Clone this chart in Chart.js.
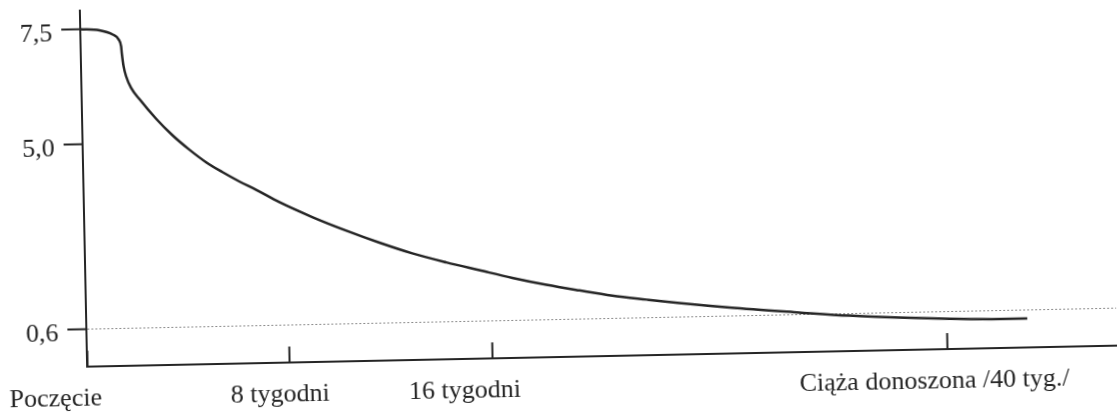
<!DOCTYPE html>
<html>
<head>
<meta charset="utf-8">
<script src="https://cdn.jsdelivr.net/npm/chart.js@4.4.1/dist/chart.umd.min.js"></script>
<style>
    html, body { margin: 0; padding: 0; background: #fff; overflow: hidden; }
    /* the scan is tilted a little, so the whole drawing is too */
    #wrap { width: 1117px; height: 417px; transform: rotate(-1.17deg); transform-origin: 50% 50%; }
</style>
</head>
<body>
<div id="wrap"><canvas id="hcgChart"></canvas></div>
<script>
// Curve: weeks since conception -> value
const weeks = [0, 0.76, 1.28, 1.51, 1.6, 1.62, 1.68, 1.77, 1.96, 2.28, 2.93, 3.55, 4.21, 4.87,
    5.5, 6.16, 6.83, 7.72, 9.01, 10.35, 11.64, 12.93, 14.27, 15.56, 17.15, 18.93, 20.66,
    22.39, 24.18, 25.91, 28.54, 32.22, 34.85, 37.48, 40.11, 42.74, 44.21];
const values = [7.5, 7.47, 7.37, 7.26, 7.11, 6.97, 6.68, 6.46, 6.2, 5.95, 5.51, 5.15, 4.81, 4.5,
    4.26, 4.03, 3.82, 3.52, 3.15, 2.81, 2.51, 2.24, 2.01, 1.81, 1.61, 1.43, 1.28,
    1.14, 1.03, 0.93, 0.8, 0.65, 0.55, 0.48, 0.43, 0.4, 0.4];

// Axis ticks
const xTicks = [0, 8, 16, 40];
const xLabels = ['Poczęcie', '8 tygodni', '16 tygodni', 'Ciąża donoszona /40 tyg./'];
const yTicks = [0.6, 5.0, 7.5];
const yLabels = ['0,6', '5,0', '7,5'];

// hand placed captions in the original sit a bit off their marks
const xLabelShift = [-10, 12, -6, 8];

// The drawing is not to scale: the time axis is squeezed after 16 weeks,
// and the value axis is a bit stretched between 5,0 and 7,5
function makeWarpScale(id, from, to, shift) {
    const warp = (v, a, b) => {
        let i = 1;
        while (i < a.length - 1 && v > a[i]) i++;
        const t = (v - a[i - 1]) / (a[i] - a[i - 1]);
        return b[i - 1] + t * (b[i] - b[i - 1]);
    };
    class WarpScale extends Chart.LinearScale {
        getPixelForValue(value) {
            const lo = warp(this.min, from, to), hi = warp(this.max, from, to);
            return this.getPixelForDecimal((warp(value, from, to) - lo) / (hi - lo));
        }
        getValueForPixel(pixel) {
            const lo = warp(this.min, from, to), hi = warp(this.max, from, to);
            return warp(lo + this.getDecimalForPixel(pixel) * (hi - lo), to, from);
        }
        _computeLabelItems(chartArea) {
            const items = super._computeLabelItems(chartArea);
            if (shift) {
                items.forEach((item, i) => { item.options.translation[0] += shift[i] || 0; });
            }
            return items;
        }
    }
    WarpScale.id = id;
    WarpScale.defaults = Chart.LinearScale.defaults;
    Chart.register(WarpScale);
}
makeWarpScale('weeks', [0, 8, 16, 40], [0, 8, 16, 34], xLabelShift);
makeWarpScale('level', [0.6, 5.0, 7.5], [0.6, 4.865, 7.5]);

const ink = '#252525';
const font = { family: "'Liberation Serif', 'DejaVu Serif', serif", size: 26 };

const ctx = document.getElementById('hcgChart').getContext('2d');
const hcgChart = new Chart(ctx, {
    type: 'line',
    data: {
        datasets: [{
            data: weeks.map((w, i) => ({ x: w, y: values[i] })),
            borderColor: ink,
            borderWidth: 2.5,
            pointRadius: 0,
            fill: false,
            cubicInterpolationMode: 'monotone'
        }]
    },
    options: {
        responsive: true,
        maintainAspectRatio: false,
        animation: false,
        layout: { padding: { left: 0, right: 3, top: 0, bottom: 0 } },
        scales: {
            x: {
                type: 'weeks',
                min: 0,
                max: 48.9,
                afterBuildTicks: (scale) => { scale.ticks = xTicks.map(v => ({ value: v })); },
                afterFit: (scale) => { scale.height = 60; scale.paddingLeft = 0; scale.paddingRight = 0; },
                grid: {
                    drawOnChartArea: false,
                    tickLength: -16,   // little marks stand up from the axis
                    tickWidth: 2,
                    tickColor: ink,
                    color: ink
                },
                border: { color: ink, width: 2 },
                ticks: {
                    autoSkip: false,
                    maxRotation: 0,
                    minRotation: 0,
                    padding: 33,
                    labelOffset: -22,
                    color: ink,
                    font: font,
                    callback: (v, i) => xLabels[i]
                }
            },
            y: {
                type: 'level',
                min: -0.29,
                max: 7.9,
                afterBuildTicks: (scale) => { scale.ticks = yTicks.map(v => ({ value: v })); },
                afterFit: (scale) => { scale.width = 84; scale.paddingTop = 0; scale.paddingBottom = 0; },
                grid: {
                    // only the 0,6 level gets the faint dotted line
                    color: (c) => (c.tick && c.tick.value === 0.6) ? '#8c8c8c' : 'rgba(0,0,0,0)',
                    lineWidth: 1,
                    tickLength: 19,
                    tickWidth: 2,
                    tickColor: ink
                },
                border: { color: ink, width: 2, dash: [2, 2] },
                ticks: {
                    padding: 9,
                    labelOffset: 5,
                    color: ink,
                    font: font,
                    callback: (v, i) => yLabels[i]
                }
            }
        },
        plugins: {
            legend: { display: false },
            tooltip: { enabled: false }
        }
    }
});
</script>
</body>
</html>
